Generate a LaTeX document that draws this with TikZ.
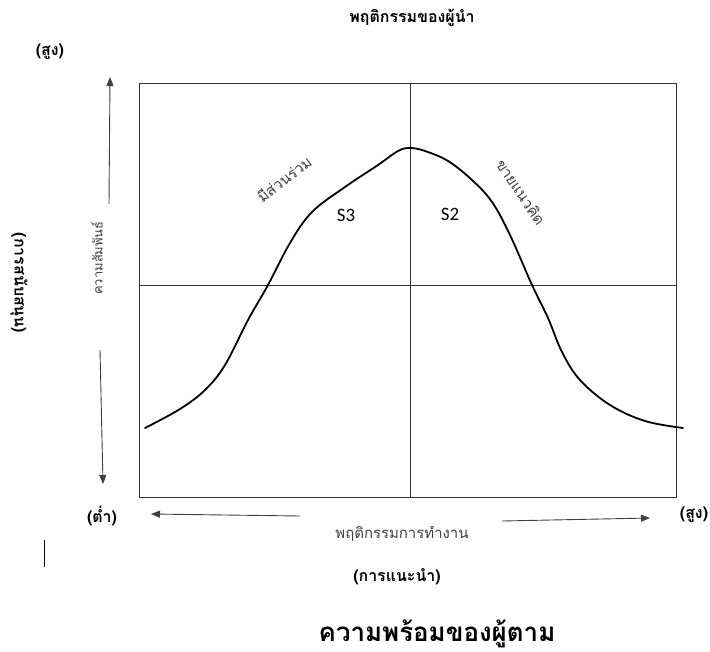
\documentclass[tikz,border=0pt]{standalone}
\usepackage{fontspec}
\setmainfont{Carlito}
\newfontfamily\thai[Script=Thai]{Loma}
\usetikzlibrary{arrows.meta}

\tikzset{
  thtext/.style={font=\thai\fontsize{15}{17}\selectfont, text=black!75, inner sep=1bp},
  thbold/.style={font=\thai\bfseries\fontsize{16}{18}\selectfont, inner sep=1bp},
  grid line/.style={draw=black!80, line width=0.9bp},
  axis arrow/.style={-{Triangle[length=9bp,width=7bp]}, line width=0.9bp, draw=black!75},
  curve line/.style={line width=1.8bp, line join=round, line cap=round},
}

\begin{document}
\begin{tikzpicture}[x=1bp,y=-1bp]
\useasboundingbox (0,0) rectangle (710,652);

% frame and quadrants
\coordinate (nw) at (139,83);
\coordinate (se) at (676,497);
\coordinate (midtop) at (410,83);
\coordinate (midbot) at (410,497);
\coordinate (midleft) at (139,285);
\coordinate (midright) at (676,285);
\draw[grid line] (nw) rectangle (se);
\draw[grid line] (midtop) -- (midbot);
\draw[grid line] (midleft) -- (midright);

% bell curve
\draw[curve line] plot[smooth, tension=0.6] coordinates {(145,428) (180,409) (205,390) (225,365) (248,320) (268,285) (290,243) (312,212) (345,187) (378,165) (398,151) (410,148) (425,151) (448,161) (472,180) (492,202) (510,235) (532,285) (548,318) (562,352) (580,380) (610,405) (645,421) (683,428)};

\node[thtext, rotate=38] (particip) at (284,179) {มีส่วนร่วม};
\node[font=\fontsize{19}{21}\selectfont] (sthree) at (346,215) {S3};
\node[font=\fontsize{19}{21}\selectfont] (stwo) at (450,214) {S2};
\node[thtext, rotate=-56] (selling) at (521,192) {ขายแนวคิด};

% vertical axis
\node[thbold] (title) at (412,18) {พฤติกรรมของผู้นำ};
\node[thbold] (yhigh) at (50,52) {(สูง)};
\node[thbold, rotate=-90] (support) at (19,283) {(การสนับสนุน)};
\node[thtext, font=\thai\fontsize{13}{15}\selectfont, rotate=90] (relation) at (97,258) {ความสัมพันธ์};
\coordinate (upfrom) at (109,204);
\coordinate (upto) at (110,77);
\coordinate (downfrom) at (100,350);
\coordinate (downto) at (103,484);
\draw[axis arrow] (upfrom) -- (upto);
\draw[axis arrow] (downfrom) -- (downto);

% horizontal axis
\node[thbold] (xlow) at (102,516) {(ต่ำ)};
\node[thbold] (xhigh) at (694,515) {(สูง)};
\node[thtext] (task) at (402,534) {พฤติกรรมการทำงาน};
\coordinate (leftfrom) at (300,516);
\coordinate (leftto) at (151,514);
\coordinate (rightfrom) at (502,521);
\coordinate (rightto) at (650,518);
\draw[axis arrow] (leftfrom) -- (leftto);
\draw[axis arrow] (rightfrom) -- (rightto);
\draw[line width=0.9bp] (44,540) -- (44,567);
\node[thbold] (guide) at (397,577) {(การแนะนำ)};

\node[thbold, font=\thai\bfseries\fontsize{26}{30}\selectfont] (ready) at (437,634) {ความพร้อมของผู้ตาม};
\end{tikzpicture}
\end{document}
